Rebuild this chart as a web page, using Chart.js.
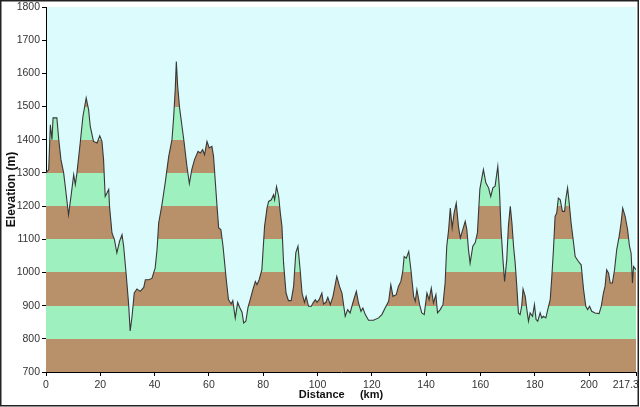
<!DOCTYPE html>
<html>
<head>
<meta charset="utf-8">
<script src="https://cdn.jsdelivr.net/npm/chart.js@4/dist/chart.umd.min.js"></script>
<style>
html, body { margin: 0; padding: 0; background: #fff; }
#wrap { width: 640px; height: 407px; position: relative; }
</style>
</head>
<body>
<div id="wrap"><canvas id="myChart"></canvas></div>
<script>
// route profile
var distKm = [0, 1.0, 1.6, 2.2, 2.6, 4.0, 4.7, 5.5, 6.5, 7.1, 8.3, 9.2, 10.2, 10.8, 11.4, 12.6, 13.6, 14.8, 15.7, 16.3,
    17.5, 18.8, 19.8, 20.6, 21.2, 21.8, 22.5, 23.1, 23.4, 24.3, 25.2, 26.1, 27.1, 28.0, 28.6, 29.6, 30.4, 31.0, 31.7, 32.5,
    33.5, 34.7, 36.0, 36.6, 37.8, 39.0, 40.2, 40.9, 41.5, 42.7, 43.9, 45.2, 46.4, 47.0, 47.6, 48.0, 48.5, 49.2, 50.1, 50.9,
    51.9, 52.8, 53.7, 54.7, 56.0, 56.8, 57.7, 58.4, 59.3, 60.1, 61.1, 61.7, 62.3, 63.0, 63.6, 64.4, 65.2, 65.8, 66.4, 67.2,
    68.2, 68.8, 69.7, 70.6, 71.3, 72.2, 72.8, 73.6, 74.4, 75.2, 76.2, 77.1, 77.7, 78.5, 79.5, 80.5, 81.4, 82.0, 83.0, 83.8,
    84.2, 84.9, 85.7, 86.3, 86.9, 87.5, 88.4, 89.3, 90.3, 91.2, 92.0, 92.8, 93.6, 94.3, 95.2, 95.8, 96.7, 97.7, 98.5, 99.2,
    99.8, 100.6, 101.6, 102.2, 103.1, 103.8, 104.7, 105.7, 107.1, 108.1, 109.0, 110.2, 111.1, 112.0, 113.0, 114.3, 115.1, 116.0, 116.7, 117.6,
    118.8, 120.6, 122.5, 123.7, 124.9, 126.2, 127.0, 127.8, 129.0, 129.8, 130.7, 131.4, 131.9, 132.7, 133.6, 134.4, 135.4, 136.0, 136.6, 137.6,
    138.4, 139.3, 140.3, 141.1, 141.9, 142.7, 143.6, 144.2, 145.2, 146.2, 147.0, 147.6, 148.3, 148.9, 149.6, 150.3, 151.1, 151.9, 152.6, 153.5,
    154.4, 155.0, 155.6, 156.2, 157.2, 158.1, 158.9, 159.8, 161.1, 162.0, 163.0, 163.8, 164.6, 165.4, 166.4, 167.0, 167.6, 168.3, 168.9, 169.7,
    170.3, 171.0, 171.6, 172.2, 172.8, 173.4, 174.0, 174.6, 175.2, 175.7, 176.5, 177.1, 177.7, 178.3, 179.2, 179.9, 180.5, 181.1, 182.0, 182.6,
    183.2, 184.1, 184.8, 185.7, 186.3, 186.9, 187.5, 188.1, 188.7, 189.4, 190.2, 191.0, 191.4, 192.1, 192.7, 193.4, 194.3, 194.9, 196.1, 197.1,
    198.0, 198.8, 199.5, 200.2, 201.0, 202.2, 203.7, 204.5, 205.3, 205.9, 206.5, 207.2, 207.8, 208.6, 209.4, 210.2, 211.1, 211.8, 212.4, 213.3,
    214.2, 214.9, 215.5, 216.0, 216.4, 217.3];
var elevM = [1300, 1310, 1445, 1400, 1466, 1466, 1400, 1340, 1300, 1259, 1174, 1229, 1295, 1265, 1300, 1390, 1470, 1526, 1490, 1440,
    1395, 1390, 1412, 1395, 1340, 1229, 1240, 1250, 1199, 1119, 1099, 1059, 1094, 1114, 1079, 988, 908, 824, 868, 938,
    950, 943, 955, 978, 978, 982, 1013, 1069, 1149, 1204, 1270, 1350, 1400, 1466, 1551, 1636, 1561, 1496, 1440, 1390,
    1320, 1268, 1310, 1340, 1365, 1360, 1370, 1355, 1395, 1375, 1380, 1350, 1280, 1199, 1134, 1129, 1079, 1028, 978, 918,
    905, 915, 863, 910, 895, 880, 848, 853, 895, 918, 948, 973, 963, 978, 1008, 1139, 1194, 1214, 1219, 1234,
    1219, 1259, 1229, 1179, 1139, 1028, 938, 915, 915, 958, 1059, 1079, 1008, 938, 910, 928, 898, 898, 910, 918,
    910, 918, 938, 905, 910, 925, 903, 928, 988, 958, 938, 868, 888, 878, 908, 943, 908, 883, 893, 873,
    856, 856, 863, 873, 893, 913, 963, 928, 933, 958, 973, 1003, 1048, 1043, 1063, 1008, 928, 913, 948, 903,
    878, 873, 938, 918, 953, 908, 933, 878, 888, 903, 968, 1079, 1129, 1194, 1134, 1179, 1209, 1139, 1104, 1129,
    1154, 1129, 1069, 1028, 1079, 1090, 1120, 1252, 1310, 1270, 1255, 1229, 1255, 1260, 1320, 1250, 1129, 1038, 973, 1038,
    1139, 1199, 1149, 1079, 1028, 958, 878, 873, 898, 950, 928, 888, 853, 878, 868, 903, 858, 853, 878, 863,
    868, 863, 888, 918, 988, 1069, 1169, 1179, 1224, 1219, 1184, 1184, 1219, 1255, 1209, 1149, 1089, 1048, 1033, 1023,
    948, 898, 888, 898, 883, 878, 876, 898, 938, 958, 1008, 998, 968, 968, 1008, 1069, 1109, 1149, 1194, 1169,
    1129, 1079, 1058, 968, 1018, 1008];

var xTickValues = [0, 20, 40, 60, 80, 100, 120, 140, 160, 180, 200, 217.3];
var bandEdges = [700, 800, 900, 1000, 1100, 1200, 1300, 1400, 1500, 1600, 1700, 1800];
var bandColors = ['#b8906a', '#9ef0bf'];

var points = distKm.map(function(d, i){ return {x: d, y: elevM[i]}; });

// striped fill: one hard stop per 100 m band, placed with the y scale
function bandFill(context){
    var chart = context.chart;
    if(!chart.chartArea) return bandColors[0];
    var y = chart.scales.y;
    var y0 = y.getPixelForValue(bandEdges[0]);
    var y1 = y.getPixelForValue(bandEdges[bandEdges.length - 1]);
    var g = chart.ctx.createLinearGradient(0, y0, 0, y1);
    var span = bandEdges[bandEdges.length - 1] - bandEdges[0];
    for(var i = 0; i < bandEdges.length - 1; i++){
        var c = bandColors[i % 2];
        g.addColorStop((bandEdges[i] - bandEdges[0]) / span, c);
        g.addColorStop((bandEdges[i + 1] - bandEdges[0]) / span, c);
    }
    return g;
}

var plotBg = {
    id: 'plotBg',
    beforeDraw: function(chart){
        var a = chart.chartArea, c = chart.ctx;
        c.save();
        c.fillStyle = '#dcfbfc';
        c.fillRect(a.left, a.top, a.right - a.left, a.bottom - a.top);
        c.restore();
    },
    afterDraw: function(chart){
        var c = chart.ctx;
        c.save();
        c.strokeStyle = '#222';
        c.lineWidth = 1.5;
        c.strokeRect(0.75, 0.75, 637.5, 405);
        c.restore();
    }
};

var tickFont = {family: "'Liberation Sans', Arial, sans-serif", size: 10.5};
var xTitleFont = {family: "'Liberation Sans', Arial, sans-serif", size: 11, weight: 'bold'};
var yTitleFont = {family: "'Liberation Sans', Arial, sans-serif", size: 12, weight: 'bold'};

var ctx = document.getElementById('myChart').getContext('2d');
var myChart = new Chart(ctx, {
    type: 'line',
    data: {
        datasets: [{
            label: 'Elevation',
            data: points,
            borderColor: '#383838',
            borderWidth: 1.1,
            backgroundColor: bandFill,
            fill: 'start',
            pointRadius: 0,
            tension: 0
        }]
    },
    options: {
        responsive: true,
        maintainAspectRatio: false,
        animation: false,
        layout: {padding: {left: 0, right: 4, top: 7, bottom: 0}},
        plugins: {legend: {display: false}, tooltip: {enabled: false}},
        scales: {
            x: {
                type: 'linear',
                min: 0,
                max: 217.3,
                afterBuildTicks: function(s){ s.ticks = xTickValues.map(function(v){ return {value: v}; }); },
                afterFit: function(s){ s.height = 35; s.paddingLeft = 0; s.paddingRight = 0; },
                ticks: {autoSkip: false, maxRotation: 0, color: '#333', font: tickFont, padding: 3,
                    callback: function(v, i){
                        // last label sits pulled in against the frame
                        return i === xTickValues.length - 1 ? String(v) + '\u2007\u2007\u2007 ' : String(v);
                    }},
                grid: {display: true, drawOnChartArea: false, drawTicks: true, tickLength: 4, color: '#000'},
                border: {display: true, color: '#000', width: 1},
                title: {display: true, text: 'Distance     (km)', color: '#111', font: xTitleFont, padding: {top: 0, bottom: 5}}
            },
            y: {
                min: 700,
                max: 1800,
                afterFit: function(s){ s.width = 46; s.paddingTop = 0; s.paddingBottom = 0; },
                ticks: {stepSize: 100, color: '#333', font: tickFont, padding: 2,
                    callback: function(v){ return String(v); }},
                grid: {display: true, drawOnChartArea: false, drawTicks: true, tickLength: 4, color: '#000'},
                border: {display: true, color: '#000', width: 1},
                title: {display: true, text: 'Elevation (m)', color: '#111', font: yTitleFont, padding: {top: 4, bottom: 0}}
            }
        }
    },
    plugins: [plotBg]
});
</script>
</body>
</html>
